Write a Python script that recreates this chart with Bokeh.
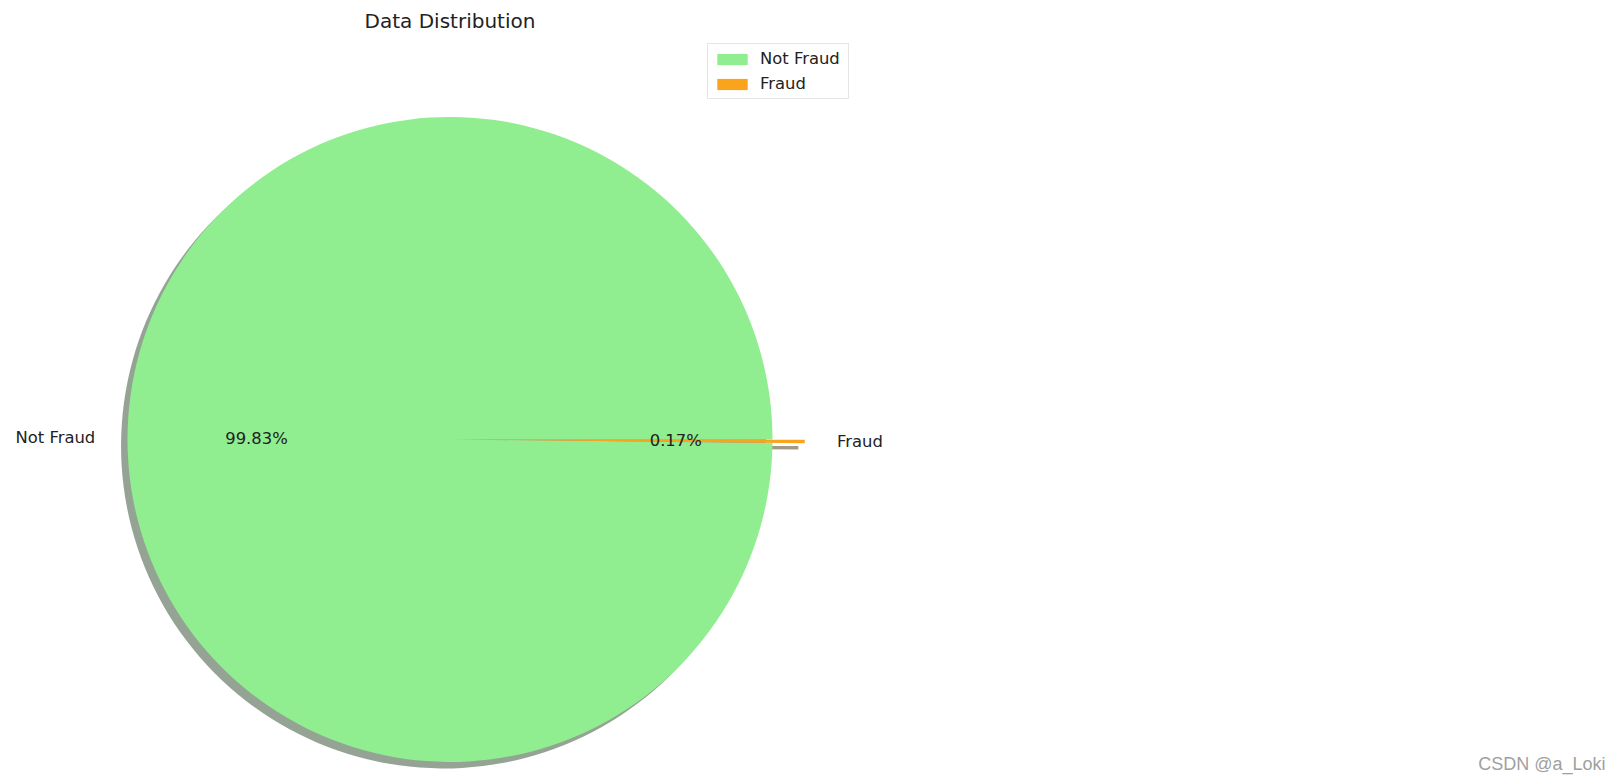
import numpy as np
from bokeh.plotting import figure
from bokeh.models import ColumnDataSource, Legend, LegendItem, Label, Range1d
from bokeh.embed import file_html
from bokeh.resources import INLINE
from bokeh.core.properties import value, field

# ---- data ----
labels = ["Not Fraud", "Fraud"]
counts = [284315, 492]
colors = ["#90EE90", "#FAA41E"]
explode = [0.0, 0.1]
title_text = "Data Distribution"
watermark = "CSDN @a_Loki"

# ---- derived pie geometry (matplotlib-like) ----
vals = np.array(counts, dtype=float)
frac = vals / vals.sum()
ends = np.cumsum(frac) * 2 * np.pi
starts = ends - frac * 2 * np.pi
mids = (starts + ends) / 2
ex = np.array(explode)
cx = ex * np.cos(mids)
cy = ex * np.sin(mids)


def darker(hexcol, f=0.3):
    h = hexcol.lstrip("#")
    r, g, b = (int(h[i:i + 2], 16) for i in (0, 2, 4))
    return "#%02x%02x%02x" % (int(r * f), int(g * f), int(b * f))


src = ColumnDataSource(dict(
    label=labels, color=colors, start=starts, end=ends,
    cx=cx, cy=cy, sx=cx - 0.02, sy=cy - 0.02,
    shadow=[darker(c) for c in colors],
    pct=["%.2f%%" % (f * 100) for f in frac],
    px=cx + 0.6 * np.cos(mids), py=cy + 0.6 * np.sin(mids),
    lx=cx + 1.1 * np.cos(mids), ly=cy + 1.1 * np.sin(mids),
    align=["right" if np.cos(m) < 0 else "left" for m in mids],
))

W, H = 1622, 782
p = figure(width=W, height=H,
           x_range=Range1d(-1.3938, 3.6357), y_range=Range1d(-1.0636, 1.3612),
           output_backend="svg", toolbar_location=None,
           x_axis_location=None, y_axis_location=None,
           min_border=0, outline_line_color=None, background_fill_color="white")
p.grid.visible = False

# shadows
p.wedge(x="sx", y="sy", radius=1, start_angle="start", end_angle="end",
        fill_color="shadow", fill_alpha=0.5, line_color=None, source=src)
# wedges
wr = p.wedge(x="cx", y="cy", radius=1, start_angle="start", end_angle="end",
             fill_color="color", line_color=None, source=src)

# percentage texts
p.text(x="px", y="py", text="pct", text_align="center", text_baseline="middle",
       text_font=value("DejaVu Sans"), text_font_size="16.4px",
       text_color="#222222", source=src)
# outer labels
p.text(x="lx", y="ly", text="label", text_align=field("align"), text_baseline="middle",
       text_font=value("DejaVu Sans"), text_font_size="16.4px",
       text_color="#222222", source=src)

legend = Legend(
    items=[LegendItem(label=labels[i], renderers=[wr], index=i) for i in range(len(labels))],
    location=(707, 683), margin=0, padding=5, spacing=6,
    glyph_width=38, glyph_height=14, label_height=19, label_standoff=9,
    label_width=83,
    label_text_font="DejaVu Sans", label_text_font_size="16.4px",
    label_text_color="#222222", label_text_baseline="middle",
    border_line_color="#cccccc", border_line_width=1,
    background_fill_color="white", background_fill_alpha=0.8,
)
p.add_layout(legend)

p.add_layout(Label(x=0, y=H - 20, y_units="screen", text=title_text,
                   text_align="center", text_baseline="middle",
                   text_font="DejaVu Sans", text_font_size="20px",
                   text_color="#222222"))

p.add_layout(Label(x=1605, y=19, x_units="screen", y_units="screen", text=watermark,
                   text_align="right", text_baseline="middle",
                   text_font="Liberation Sans", text_font_size="18px",
                   text_color="#a0a0a0"))

open("out.html", "w").write(file_html(p, INLINE))
